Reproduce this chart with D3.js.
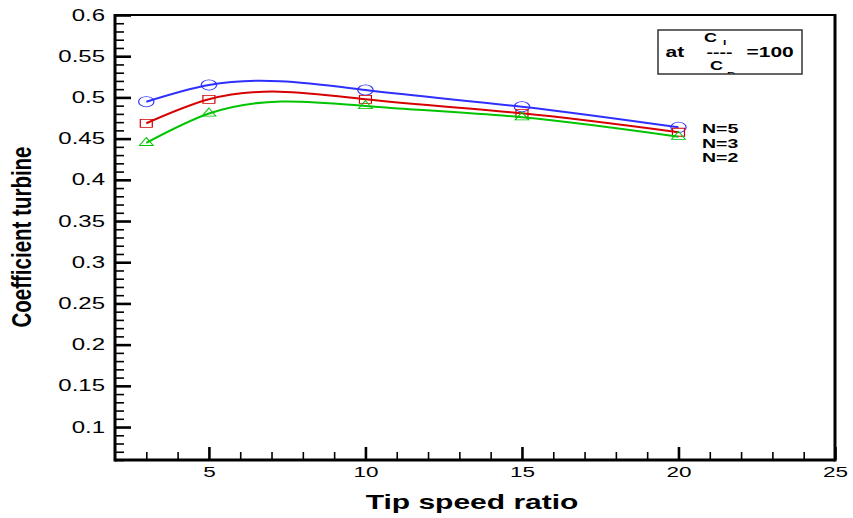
<!DOCTYPE html>
<html>
<head>
<meta charset="utf-8">
<script src="https://cdn.jsdelivr.net/npm/d3@7"></script>
<style>
  body { margin: 0; background: #fff; }
  text { font-family: "Liberation Sans", Arial, sans-serif; }
</style>
</head>
<body>
<svg id="chart" width="853" height="518"></svg>
<script>
// tip speed ratio at which the blades were evaluated
const tipSpeedRatio = [3, 5, 10, 15, 20];

// power coefficient for each number of blades
const coefN5 = [0.4948, 0.5151, 0.5090, 0.4887, 0.4637];
const coefN3 = [0.4686, 0.4977, 0.4977, 0.4807, 0.4577];
const coefN2 = [0.4449, 0.4805, 0.4896, 0.4759, 0.4523];

const seriesNames = ["N=5", "N=3", "N=2"];

const yMajorTicks = [0.1, 0.15, 0.2, 0.25, 0.3, 0.35, 0.4, 0.45, 0.5, 0.55, 0.6];
const xMajorTicks = [5, 10, 15, 20, 25];

const svg = d3.select("#chart");

// frame of the plot
const frame = { left: 115, right: 835, top: 15, bottom: 460 };

const x = d3.scaleLinear().domain([2, 25]).range([frame.left, frame.right]);
const y = d3.scaleLinear().domain([0.06, 0.6]).range([frame.bottom, frame.top]);

// everything in the original is stretched sideways
const sx = 1.5;

// natural cubic spline y(x), drawn as bezier pieces (same as the plotting program)
function curveSplineX(context) {
  let xs, ys;
  return {
    areaStart() {}, areaEnd() {},
    lineStart() { xs = []; ys = []; },
    point(px, py) { xs.push(+px); ys.push(+py); },
    lineEnd() {
      const n = xs.length;
      if (!n) return;
      context.moveTo(xs[0], ys[0]);
      if (n < 3) { if (n === 2) context.lineTo(xs[1], ys[1]); return; }
      const h = d3.range(n - 1).map(i => xs[i + 1] - xs[i]);
      // tridiagonal system for second derivatives, natural ends
      const a = new Array(n).fill(0), b = new Array(n).fill(1),
            c = new Array(n).fill(0), r = new Array(n).fill(0);
      for (let i = 1; i < n - 1; i++) {
        a[i] = h[i - 1]; b[i] = 2 * (h[i - 1] + h[i]); c[i] = h[i];
        r[i] = 6 * ((ys[i + 1] - ys[i]) / h[i] - (ys[i] - ys[i - 1]) / h[i - 1]);
      }
      for (let i = 1; i < n; i++) {
        const w = a[i] / b[i - 1];
        b[i] -= w * c[i - 1]; r[i] -= w * r[i - 1];
      }
      const M = new Array(n).fill(0);
      M[n - 1] = r[n - 1] / b[n - 1];
      for (let i = n - 2; i >= 0; i--) M[i] = (r[i] - c[i] * M[i + 1]) / b[i];
      for (let i = 0; i < n - 1; i++) {
        const s = (ys[i + 1] - ys[i]) / h[i];
        const m0 = s - h[i] * (2 * M[i] + M[i + 1]) / 6;
        const m1 = s + h[i] * (M[i] + 2 * M[i + 1]) / 6;
        context.bezierCurveTo(
          xs[i] + h[i] / 3, ys[i] + m0 * h[i] / 3,
          xs[i + 1] - h[i] / 3, ys[i + 1] - m1 * h[i] / 3,
          xs[i + 1], ys[i + 1]);
      }
    }
  };
}

// minor ticks every 1 and every 0.01
const xMinor = d3.range(3, 25).filter(d => d % 5 !== 0);
const yMinor = d3.range(6, 60).map(d => d / 100).filter(d => Math.round(d * 100) % 5 !== 0);

// y axis, ticks pointing into the plot
const yAxis = svg.append("g").attr("transform", `translate(${frame.left},0)`);
yAxis.append("g")
  .call(d3.axisLeft(y).tickValues(yMinor).tickSize(-9).tickFormat(""))
  .call(g => g.selectAll("line").attr("stroke-width", 1.6));
yAxis.append("g")
  .call(d3.axisLeft(y).tickValues(yMajorTicks).tickSize(-16).tickPadding(10)
    .tickFormat(d => String(+d.toFixed(2))))
  .call(g => g.selectAll("line").attr("stroke-width", 2.6))
  .call(g => g.selectAll("text")
    .attr("x", -10 / sx)
    .attr("transform", `scale(${sx},1)`)
    .attr("font-size", 16)
    .attr("font-family", "Liberation Sans, Arial, sans-serif")
    .attr("fill", "#000"));
yAxis.selectAll(".domain").remove();

// x axis, ticks pointing up
const xAxis = svg.append("g").attr("transform", `translate(0,${frame.bottom})`);
xAxis.append("g")
  .call(d3.axisBottom(x).tickValues(xMinor).tickSize(-8).tickFormat(""))
  .call(g => g.selectAll("line").attr("stroke-width", 1.6));
xAxis.append("g")
  .call(d3.axisBottom(x).tickValues(xMajorTicks).tickSize(-13).tickPadding(6))
  .call(g => g.selectAll("line").attr("stroke-width", 2.6))
  .call(g => g.selectAll("text")
    .attr("transform", `scale(${sx},1)`)
    .attr("font-size", 15)
    .attr("font-family", "Liberation Sans, Arial, sans-serif")
    .attr("fill", "#000"));
xAxis.selectAll(".domain").remove();

// frame
svg.append("line").attr("x1", frame.left).attr("x2", frame.right)
  .attr("y1", frame.top).attr("y2", frame.top)
  .attr("stroke", "#000").attr("stroke-width", 2);
svg.append("line").attr("x1", frame.left).attr("x2", frame.right)
  .attr("y1", frame.bottom).attr("y2", frame.bottom)
  .attr("stroke", "#000").attr("stroke-width", 3);
svg.append("line").attr("x1", frame.left).attr("x2", frame.left)
  .attr("y1", frame.top - 1).attr("y2", frame.bottom + 1.5)
  .attr("stroke", "#000").attr("stroke-width", 3);
svg.append("line").attr("x1", frame.right).attr("x2", frame.right)
  .attr("y1", frame.top - 1).attr("y2", frame.bottom + 1.5)
  .attr("stroke", "#000").attr("stroke-width", 3);

// curves
const series = [
  { name: seriesNames[0], values: coefN5, color: "#2f2fff", symbol: d3.symbolCircle, size: 82 },
  { name: seriesNames[1], values: coefN3, color: "#d60000", symbol: d3.symbolSquare, size: 64 },
  { name: seriesNames[2], values: coefN2, color: "#00c400", symbol: d3.symbolTriangle, size: 37 }
];

const line = d3.line()
  .x(d => x(d[0]))
  .y(d => y(d[1]))
  .curve(curveSplineX);

series.forEach(s => {
  const pts = tipSpeedRatio.map((t, i) => [t, s.values[i]]);
  svg.append("path")
    .datum(pts)
    .attr("d", line)
    .attr("fill", "none")
    .attr("stroke", s.color)
    .attr("stroke-width", 2);
  svg.append("g").selectAll("path")
    .data(pts)
    .join("path")
    .attr("d", d3.symbol().type(s.symbol).size(s.size))
    .attr("transform", d => `translate(${x(d[0])},${y(d[1])}) scale(${sx},1)`)
    .attr("fill", "none")
    .attr("stroke", s.color)
    .attr("stroke-width", 0.8);
});

// text helper: stretched like the rest of the picture
function label(parent, px, py, str, size, weight) {
  return parent.append("text")
    .attr("transform", `translate(${px},${py}) scale(${sx},1)`)
    .attr("font-size", size)
    .attr("font-weight", weight || "bold")
    .attr("fill", "#000")
    .text(str);
}

// series labels at the right end
seriesNames.forEach((n, i) => label(svg, 702, 133 + i * 14.7, n, 13));

// box with the lift/drag ratio
const box = { x: 658, y: 30, w: 144, h: 44 };
svg.append("clipPath").attr("id", "boxclip")
  .append("rect").attr("x", box.x).attr("y", box.y).attr("width", box.w).attr("height", box.h);
const note = svg.append("g").attr("clip-path", "url(#boxclip)");
note.append("rect").attr("x", box.x).attr("y", box.y).attr("width", box.w).attr("height", box.h)
  .attr("fill", "#fff");
label(note, 704, 41.5, "C", 12);
label(note, 723, 44.5, "l", 8);
label(note, 665.5, 57, "at", 14);
label(note, 706.5, 56.5, "----", 13);
label(note, 710, 70, "C", 12);
label(note, 727, 77, "D", 8);
label(note, 746.5, 57.3, "=100", 14);
svg.append("rect").attr("x", box.x).attr("y", box.y).attr("width", box.w).attr("height", box.h)
  .attr("fill", "none").attr("stroke", "#333").attr("stroke-width", 1.5);

// axis titles
label(svg, 472, 509, "Tip speed ratio", 20).attr("text-anchor", "middle");

svg.append("text")
  .attr("transform", "translate(31,237) rotate(-90) scale(1,1.5)")
  .attr("text-anchor", "middle")
  .attr("font-size", 18)
  .attr("font-weight", "bold")
  .attr("textLength", 181)
  .attr("lengthAdjust", "spacingAndGlyphs")
  .text("Coefficient turbine");
</script>
</body>
</html>
